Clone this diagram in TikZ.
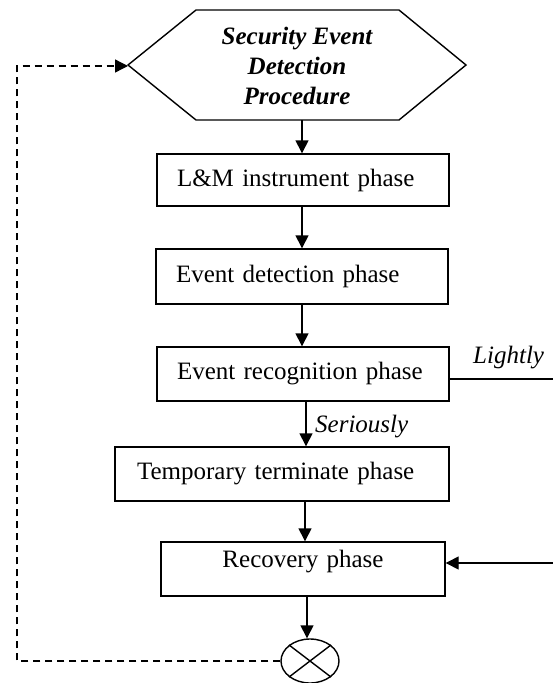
\documentclass[tikz,border=0pt]{standalone}
\usepackage{fontspec}
\setmainfont{Liberation Serif}
\usetikzlibrary{arrows.meta,shapes.geometric}
\begin{document}
\begin{tikzpicture}[x=1pt,y=-1pt,
  phase/.style={draw, line width=1.4pt, align=left, inner xsep=20pt, inner ysep=0pt, font=\fontsize{25}{30}\selectfont},
  arr/.style={line width=1.4pt, -{Triangle[width=13pt,length=13pt]}},
  dashline/.style={line width=1.4pt, dash pattern=on 7pt off 5pt},
  lbl/.style={font=\fontsize{25}{30}\selectfont\itshape, inner sep=0pt, anchor=base west}]
\useasboundingbox (0,0) rectangle (553,683);
% hexagon
\draw[line width=1.4pt] (128,65) coordinate (hexw) -- (196,10) -- (399,10) -- (466,65) -- (399,120) -- (196,120) -- cycle;
\coordinate (hexs) at (302,120);
\node[font=\fontsize{25}{30}\selectfont\bfseries\itshape, align=center, inner sep=0pt] (hex) at (297,66) {Security Event\\Detection\\Procedure};
% boxes
\node[phase, text width=252pt, minimum height=52pt] (b1) at (303,180) {L\&M instrument phase};
\node[phase, text width=252pt, minimum height=55pt] (b2) at (302,276.5) {Event detection phase};
\node[phase, text width=252pt, minimum height=54pt] (b3) at (303,374) {Event recognition phase};
\node[phase, inner xsep=22pt, text width=290pt, minimum height=54pt] (b4) at (282,474) {Temporary terminate phase};
\node[phase, align=center, text width=244pt, minimum height=54pt, text depth=21pt] (rec) at (303,569) {Recovery phase};
\node[ellipse, draw, line width=1.4pt, minimum width=58pt, minimum height=44pt, inner sep=0pt] (sum) at (310,661) {};
\draw[line width=1.4pt] (sum.north east) -- (sum.south west) (sum.north west) -- (sum.south east);
% arrows
\coordinate (xa) at (306,0);
\coordinate (xb) at (305,0);
\coordinate (xc) at (307,0);
\draw[arr] (hexs) -- (b1.north -| hexs);
\draw[arr] (b1.south -| hexs) -- (b2.north -| hexs);
\draw[arr] (b2.south -| hexs) -- (b3.north -| hexs);
\draw[arr] (b3.south -| xa) -- (b4.north -| xa);
\draw[arr] (b4.south -| xb) -- (rec.north -| xb);
\draw[arr] (rec.south -| xc) -- (sum.north -| xc);
% side lines
\coordinate (lr) at (553,379);
\draw[line width=1.4pt] (b3.east |- lr) -- (lr);
\coordinate (rr) at (553,563);
\draw[arr] (rr) -- (rec.east |- rr);
% dashed feedback
\coordinate (dl1) at (17,657);
\coordinate (dl2) at (17,66);
\draw[dashline, -{Triangle[width=13pt,length=13pt]}] (sum.west) -- (sum.west -| dl1) -- (dl2) -- (hexw |- dl2);
% labels
\node[lbl] (light) at (473,363) {Lightly};
\node[lbl] (ser) at (315,432) {Seriously};
\end{tikzpicture}
\end{document}
